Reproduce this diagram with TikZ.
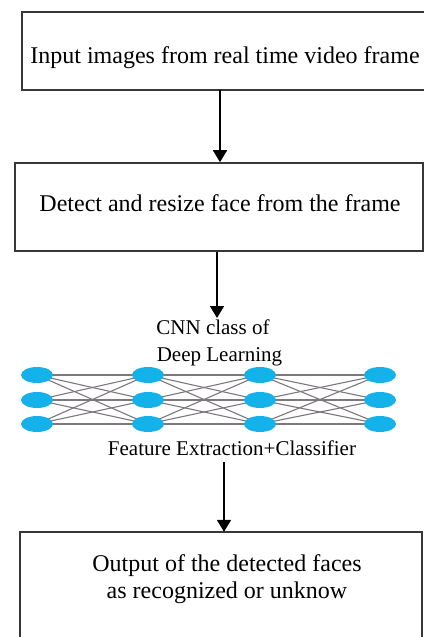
\documentclass[tikz,border=0pt]{standalone}
\usepackage{fontspec}
\setmainfont{Liberation Serif}
\usetikzlibrary{arrows.meta,shapes.geometric,backgrounds}
\definecolor{boxline}{RGB}{55,55,55}
\definecolor{neuronc}{RGB}{20,178,235}
\definecolor{wirec}{RGB}{125,120,125}
\begin{document}
\begin{tikzpicture}[x=1pt,y=-1pt,
  box/.style={draw=boxline,line width=1.6pt,inner sep=0pt},
  boxline/.style={draw=boxline,line width=1.6pt},
  txt/.style={font=\fontsize{24}{27}\selectfont,inner sep=0pt},
  small/.style={font=\fontsize{21}{24}\selectfont,inner sep=0pt},
  arr/.style={line width=1.8pt,-{Triangle[width=14pt,length=12pt]}},
  neuron/.style={ellipse,fill=neuronc,minimum width=32pt,minimum height=16pt,inner sep=0pt},
  wire/.style={draw=wirec,line width=1.1pt}]
\useasboundingbox (0,0) rectangle (424,637);
\begin{scope}[on background layer]
  \fill[white] (0,0) rectangle (424,637);
\end{scope}
% box 1: its right side lies beyond the picture
\node[inner sep=0pt,minimum width=402pt,minimum height=78pt] (b1) at (223,51) {};
\draw[boxline] (b1.north east) -- (b1.north west) -- (b1.south west) -- (b1.south east);
\node[txt,anchor=base] (t1) at (225,63) {Input images from real time video frame};
% box 2
\node[box,minimum width=408pt,minimum height=88pt] (b2) at (219,207) {};
\node[txt,anchor=base] (t2) at (220,211) {Detect and resize face from the frame};
% box 3: its bottom lies below the picture
\node[inner sep=0pt,minimum width=402pt,minimum height=105pt] (b3) at (221,584.5) {};
\draw[boxline] (b3.south west) -- (b3.north west) -- (b3.north east) -- (b3.south east);
\node[txt,anchor=base] (t3a) at (227,571) {Output of the detected faces};
\node[txt,anchor=base] (t3b) at (227,598) {as recognized or unknow};
% CNN labels
\node[small,anchor=base] (c1) at (213,334) {CNN class of};
\node[small,anchor=base] (c2) at (219.5,361) {Deep Learning};
\node[small,anchor=base] (c3) at (232,455) {Feature Extraction+Classifier};
% neurons
\foreach \c/\x in {1/37,2/148,3/260,4/380}
  \foreach \r/\y in {1/375,2/400,3/424}
    \node[neuron] (n\c\r) at (\x,\y) {};
\begin{scope}[on background layer]
  \foreach \c/\d in {1/2,2/3,3/4}
    \foreach \r in {1,2,3}
      \foreach \s in {1,2,3}
        \draw[wire] (n\c\r.center) -- (n\d\s.center);
\end{scope}
% arrows
\coordinate (x1) at (220,0);
\draw[arr] (b1.south -| x1) -- (b2.north -| x1);
\coordinate (e2) at (217,318);
\draw[arr] (b2.south -| e2) -- (e2);
\coordinate (s3) at (224,462);
\draw[arr] (s3) -- (b3.north -| s3);
\end{tikzpicture}
\end{document}
